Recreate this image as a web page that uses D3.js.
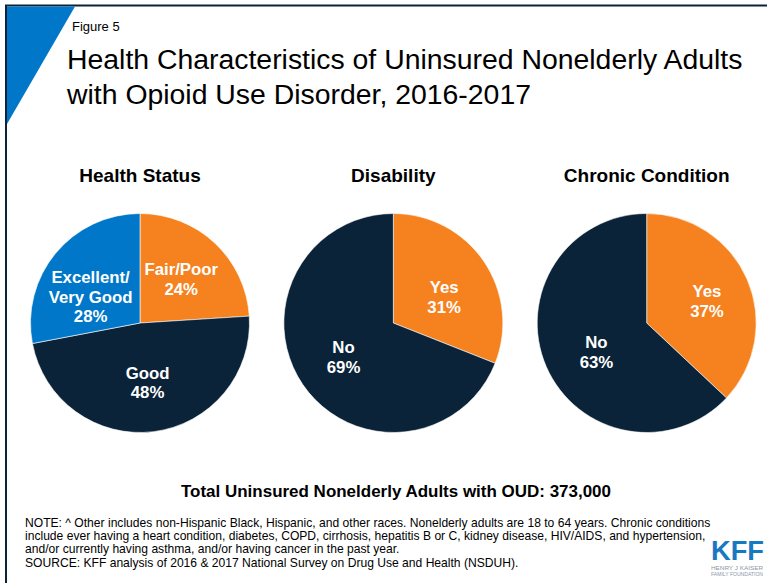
<!DOCTYPE html>
<html>
<head>
<meta charset="utf-8">
<script src="https://cdn.jsdelivr.net/npm/d3@7"></script>
<style>
  html, body { margin: 0; padding: 0; background: #fff; }
  svg { display: block; font-family: "Liberation Sans", Arial, sans-serif; }
</style>
</head>
<body>
<svg id="chart" width="767" height="583"></svg>
<script>
// Panel titles and slice data (percent of uninsured nonelderly adults with OUD)
const panels = ["Health Status", "Disability", "Chronic Condition"];
const healthLabels = ["Fair/Poor", "Good", "Excellent/\nVery Good"];
const healthValues = [24, 48, 28];
const disabilityLabels = ["Yes", "No"];
const disabilityValues = [31, 69];
const chronicLabels = ["Yes", "No"];
const chronicValues = [37, 63];

const titleLines = [
  "Health Characteristics of Uninsured Nonelderly Adults",
  "with Opioid Use Disorder, 2016-2017"
];
const totalText = "Total Uninsured Nonelderly Adults with OUD: 373,000";
const noteLines = [
  "NOTE: ^ Other includes non-Hispanic Black, Hispanic, and other races. Nonelderly adults are 18 to 64 years. Chronic conditions",
  "include ever having a heart condition, diabetes, COPD, cirrhosis, hepatitis B or C, kidney disease, HIV/AIDS, and hypertension,",
  "and/or currently having asthma, and/or having cancer in the past year.",
  "SOURCE: KFF analysis of 2016 & 2017 National Survey on Drug Use and Health (NSDUH)."
];

const ORANGE = "#F5821F", NAVY = "#0A2339", BLUE = "#0077C8";
const colorMap = {
  "Fair/Poor": ORANGE, "Good": NAVY, "Excellent/\nVery Good": BLUE,
  "Yes": ORANGE, "No": NAVY
};
// small label nudges (px) per panel, per slice, applied to the arc centroid
const labelNudge = [
  [[0, 0], [0, 0], [-3, 12]],
  [[1, 8], [0, 0]],
  [[5, 2], [5, 5]]
];

const svg = d3.select("#chart");

// Frame and corner accent
svg.append("path")
  .attr("d", "M6,583 V5.5 H767")
  .attr("fill", "none").attr("stroke", "#0A2339").attr("stroke-width", 2);
svg.append("path")
  .attr("d", "M7,6.5 L75,6.5 L7,124 Z")
  .attr("fill", BLUE);

// Headline
svg.append("text").attr("x", 72).attr("y", 31)
  .attr("font-size", 13).attr("fill", "#000").text("Figure 5");
svg.selectAll("text.title").data(titleLines).join("text")
  .attr("class", "title")
  .attr("x", 67).attr("y", (d, i) => 69 + i * 35)
  .attr("font-size", 28.4).attr("fill", "#000")
  .text(d => d);

// Pies
const pieData = [
  { labels: healthLabels, values: healthValues },
  { labels: disabilityLabels, values: disabilityValues },
  { labels: chronicLabels, values: chronicValues }
];
const centerX = d3.scalePoint().domain(panels).range([140, 646.7]);
const cy = 323, R = 109.5;
const pie = d3.pie().sort(null).value(d => d.value);
const arc = d3.arc().innerRadius(0).outerRadius(R);
const labelArc = d3.arc().innerRadius(R * 0.55).outerRadius(R * 0.55);

panels.forEach((name, pi) => {
  const cx = centerX(name);
  const g = svg.append("g").attr("transform", `translate(${cx},${cy})`);
  const rows = pieData[pi].labels.map((l, i) => ({ label: l, value: pieData[pi].values[i] }));
  const arcs = pie(rows);

  svg.append("text")
    .attr("x", cx).attr("y", 182)
    .attr("text-anchor", "middle")
    .attr("font-size", 19).attr("font-weight", "bold").attr("fill", "#000")
    .text(name);

  g.selectAll("path").data(arcs).join("path")
    .attr("d", arc)
    .attr("fill", d => colorMap[d.data.label])
    .attr("stroke", "#fff").attr("stroke-width", 0.6);

  const lh = 19.5, cap = 11.8;
  arcs.forEach((a, ai) => {
    const [cxl, cyl] = labelArc.centroid(a);
    const lx = cxl + labelNudge[pi][ai][0];
    const ly = cyl + labelNudge[pi][ai][1];
    const lines = a.data.label.split("\n").concat([a.data.value + "%"]);
    const top = ly - ((lines.length - 1) * lh + cap) / 2 + cap;
    const t = g.append("text")
      .attr("text-anchor", "middle")
      .attr("font-size", 16.8).attr("font-weight", "bold").attr("fill", "#fff");
    lines.forEach((ln, k) => {
      t.append("tspan").attr("x", lx).attr("y", top + k * lh).text(ln);
    });
  });
});

// Total
svg.append("text").attr("x", 396).attr("y", 497)
  .attr("text-anchor", "middle")
  .attr("font-size", 16.5).attr("font-weight", "bold").attr("fill", "#000")
  .attr("textLength", 430).attr("lengthAdjust", "spacingAndGlyphs")
  .text(totalText);

// Notes
svg.selectAll("text.note").data(noteLines).join("text")
  .attr("class", "note")
  .attr("x", 25).attr("y", (d, i) => 526.5 + i * 13.4)
  .attr("font-size", 12.1).attr("fill", "#000")
  .text(d => d);

// Logo
svg.append("text").attr("x", 711).attr("y", 560)
  .attr("font-size", 28).attr("font-weight", "bold").attr("fill", "#1878C0")
  .attr("textLength", 53).attr("lengthAdjust", "spacingAndGlyphs")
  .text("KFF");
svg.append("text").attr("x", 711).attr("y", 570)
  .attr("font-size", 4.5).attr("fill", "#8a97a8")
  .attr("textLength", 52).attr("lengthAdjust", "spacingAndGlyphs")
  .text("HENRY J KAISER");
svg.append("text").attr("x", 711).attr("y", 576)
  .attr("font-size", 4.5).attr("fill", "#8a97a8")
  .attr("textLength", 52).attr("lengthAdjust", "spacingAndGlyphs")
  .text("FAMILY FOUNDATION");
</script>
</body>
</html>
